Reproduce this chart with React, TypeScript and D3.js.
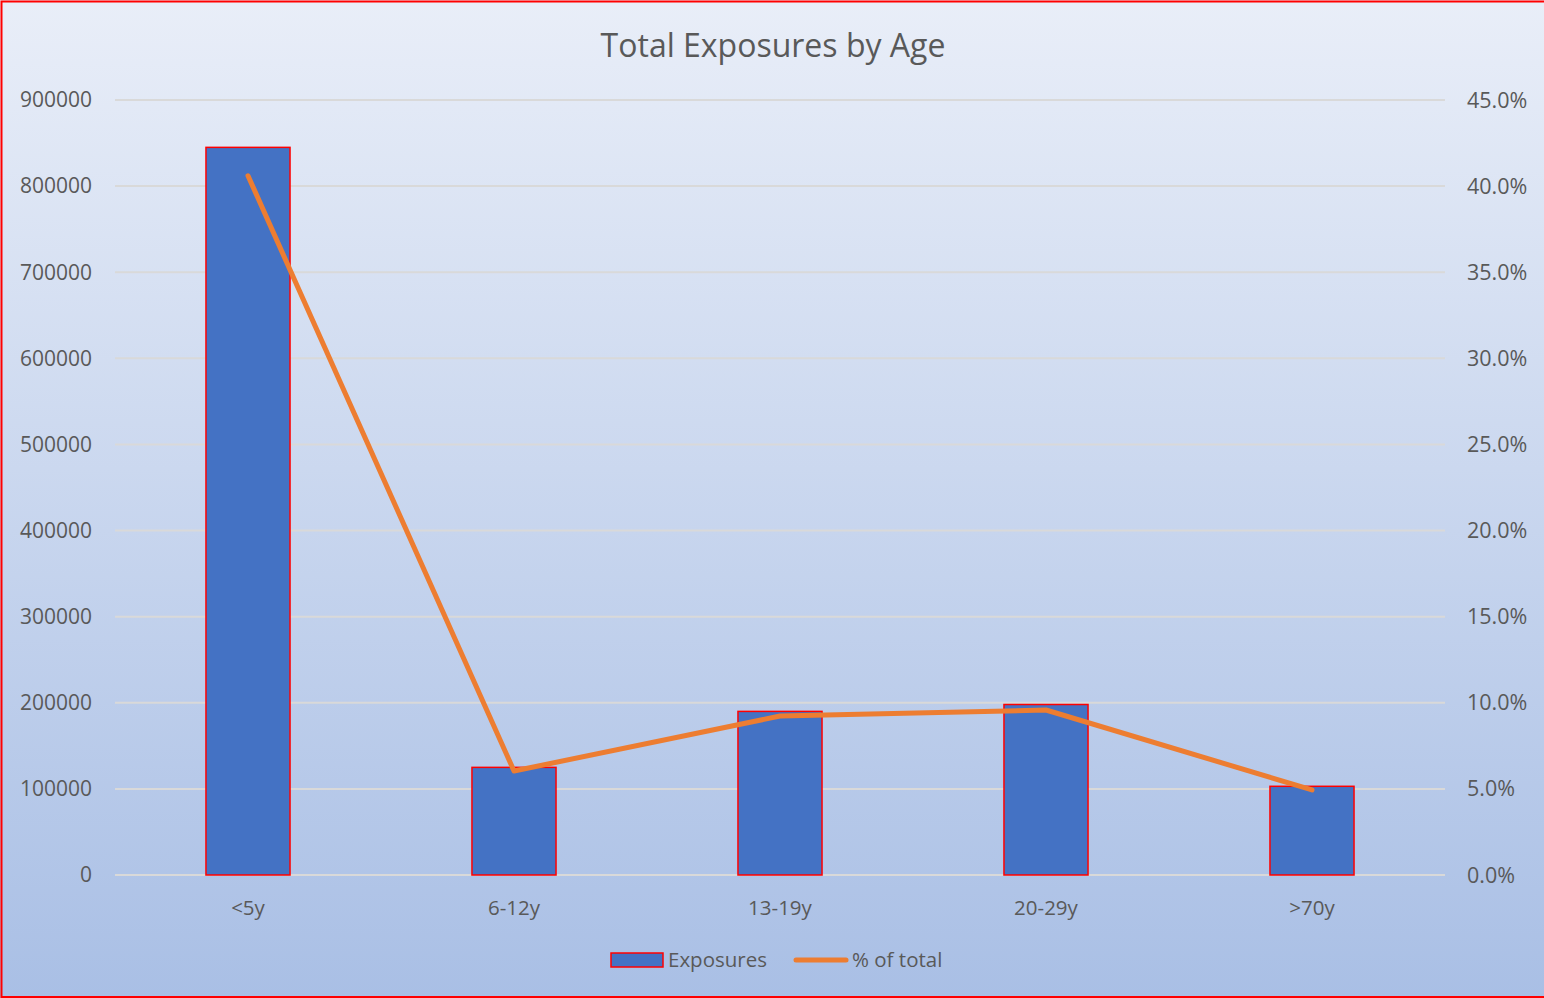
import React from "react";
import * as d3 from "d3";

const categories = ["<5y", "6-12y", "13-19y", "20-29y", ">70y"];
const exposures = [845000, 125000, 190000, 198000, 103000];
const pctOfTotal = [0.406, 0.0604, 0.0923, 0.0958, 0.0494];
const leftTicks = [0, 100000, 200000, 300000, 400000, 500000, 600000, 700000, 800000, 900000];
const rightTicks = [0, 0.05, 0.1, 0.15, 0.2, 0.25, 0.3, 0.35, 0.4, 0.45];

const W = 1544;
const H = 998;
const plot = { left: 115, right: 1445, top: 100, bottom: 875 };
const FONT = "'Open Sans', 'Noto Sans', sans-serif";
const TEXT = "#595959";

export default function App() {
  const x = d3
    .scaleBand<string>()
    .domain(categories)
    .range([plot.left, plot.right])
    .paddingInner(0.684)
    .paddingOuter(0.342);
  const yL = d3.scaleLinear().domain([0, 900000]).range([plot.bottom, plot.top]);
  const yR = d3.scaleLinear().domain([0, 0.45]).range([plot.bottom, plot.top]);
  const center = (c: string) => (x(c) as number) + x.bandwidth() / 2;

  const line = d3
    .line<number>()
    .x((_, i) => center(categories[i]))
    .y((d) => yR(d));

  const pctFmt = d3.format(".1%");

  return (
    <svg
      width={W}
      height={H}
      style={{ position: "absolute", left: 0, top: 0 }}
      fontFamily={FONT}
    >
      <defs>
        <linearGradient id="bg" x1="0" y1="0" x2="0" y2="1">
          <stop offset="0" stopColor="#e9eef8" />
          <stop offset="1" stopColor="#a9bfe5" />
        </linearGradient>
      </defs>
      <rect x={0} y={0} width={W} height={H} fill="url(#bg)" />
      <rect
        x={1.5}
        y={1.5}
        width={W + 10}
        height={H - 2.5}
        fill="none"
        stroke="#ff0000"
        strokeWidth={2}
      />

      <text
        x={773}
        y={57}
        textAnchor="middle"
        fontSize={32}
        fill={TEXT}
      >
        Total Exposures by Age
      </text>

      {/* gridlines */}
      {leftTicks.map((t) => (
        <line
          key={"g" + t}
          x1={plot.left}
          x2={plot.right}
          y1={yL(t)}
          y2={yL(t)}
          stroke="#d9d9d9"
          strokeWidth={2}
        />
      ))}

      {/* left axis labels */}
      {leftTicks.map((t) => (
        <text
          key={"l" + t}
          x={92}
          y={yL(t)}
          dy="0.35em"
          textAnchor="end"
          fontSize={21}
          fill={TEXT}
        >
          {t}
        </text>
      ))}

      {/* right axis labels */}
      {rightTicks.map((t) => (
        <text
          key={"r" + t}
          x={1467}
          y={yR(t)}
          dy="0.35em"
          textAnchor="start"
          fontSize={21.5}
          fill={TEXT}
        >
          {pctFmt(t)}
        </text>
      ))}

      {/* bars */}
      {categories.map((c, i) => (
        <rect
          key={c}
          x={x(c)}
          y={yL(exposures[i])}
          width={x.bandwidth()}
          height={yL(0) - yL(exposures[i])}
          fill="#4472c4"
          stroke="#ff0000"
          strokeWidth={1.5}
        />
      ))}

      {/* category labels */}
      {categories.map((c) => (
        <text
          key={"x" + c}
          x={center(c)}
          y={915}
          textAnchor="middle"
          fontSize={20.5}
          fill={TEXT}
        >
          {c}
        </text>
      ))}

      {/* percentage line */}
      <path
        d={line(pctOfTotal) as string}
        fill="none"
        stroke="#ed7d31"
        strokeWidth={5}
        strokeLinecap="round"
        strokeLinejoin="round"
      />

      {/* legend */}
      <rect x={611} y={953} width={52} height={14} fill="#4472c4" stroke="#ff0000" strokeWidth={1.5} />
      <text x={668} y={967} fontSize={20.5} fill={TEXT}>
        Exposures
      </text>
      <line x1={796} x2={846} y1={960} y2={960} stroke="#ed7d31" strokeWidth={5} strokeLinecap="round" />
      <text x={852} y={967} fontSize={20.5} fill={TEXT}>
        % of total
      </text>
    </svg>
  );
}
